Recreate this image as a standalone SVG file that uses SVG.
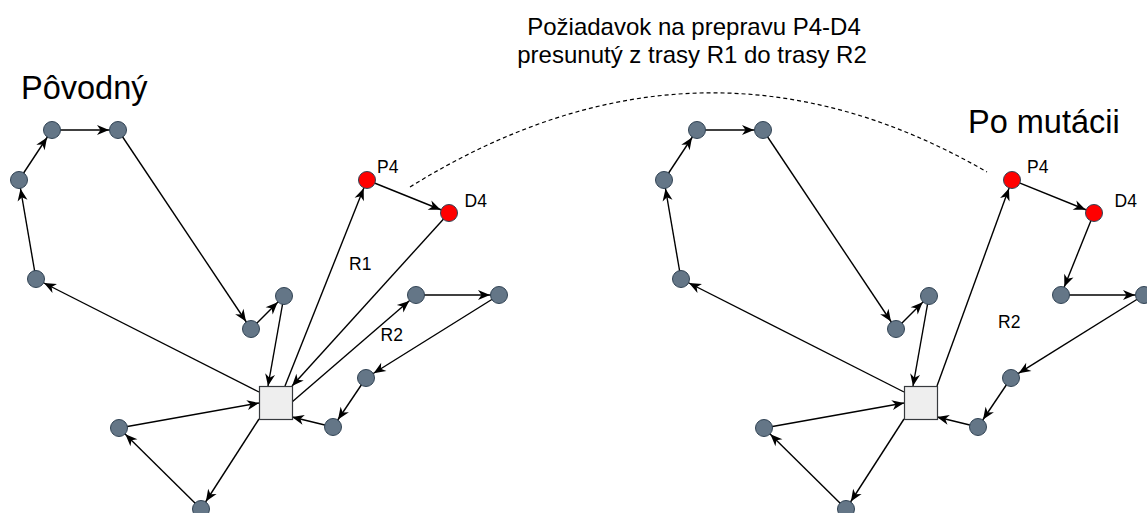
<svg xmlns="http://www.w3.org/2000/svg" width="1147" height="513" viewBox="0 0 1147 513">
  <style>
    .edge { fill: none; stroke: #000; stroke-width: 1.4; }
    .to-node { marker-end: url(#arrowNode); }
    .to-box { marker-end: url(#arrowBox); }
    .stop { fill: #647687; stroke: #314354; stroke-width: 1; }
    .stop.moved { fill: #ff0000; }
    .depot { fill: #eeeeee; stroke: #36393d; stroke-width: 1.2; }
    .label { font-family: "Liberation Sans", Arial, Helvetica, sans-serif; font-size: 17.5px; fill: #000; }
    .heading { font-family: "Liberation Sans", Arial, Helvetica, sans-serif; font-size: 32.5px; fill: #000; }
    .note { font-family: "Liberation Sans", Arial, Helvetica, sans-serif; font-size: 24px; fill: #000; text-anchor: middle; }
    .link { fill: none; stroke: #000; stroke-width: 1.2; stroke-dasharray: 4 3; }
  </style>
  <defs>
    <!-- arrowhead whose tip sits on the rim of a stop circle (r = 9) -->
    <marker id="arrowNode" markerUnits="userSpaceOnUse" orient="auto" refX="0" refY="0" markerWidth="20" markerHeight="20" overflow="visible">
      <path d="M-9,0 L-21,-5 L-17.5,0 L-21,5 Z" fill="#000"/>
    </marker>
    <!-- arrowhead whose tip sits at the end of the line (depot side) -->
    <marker id="arrowBox" markerUnits="userSpaceOnUse" orient="auto" refX="0" refY="0" markerWidth="20" markerHeight="20" overflow="visible">
      <path d="M0,0 L-12,-5 L-8.5,0 L-12,5 Z" fill="#000"/>
    </marker>
  </defs>

  <rect width="1147" height="513" fill="#ffffff"/>

  <!-- headings -->
  <text class="heading" x="21" y="99">Pôvodný</text>
  <text class="heading" x="968" y="133">Po mutácii</text>
  <text class="note" x="694" y="35">Požiadavok na prepravu P4-D4</text>
  <text class="note" x="692" y="63">presunutý z trasy R1 do trasy R2</text>

  <!-- connectors -->
  <g id="connectors">
    <!-- original: route R1 -->
    <line class="edge to-node" x1="259" y1="392" x2="36" y2="279"/>
    <line class="edge to-node" x1="36" y1="279" x2="19" y2="180"/>
    <line class="edge to-node" x1="19" y1="180" x2="52" y2="130"/>
    <line class="edge to-node" x1="52" y1="130" x2="118" y2="130"/>
    <line class="edge to-node" x1="118" y1="130" x2="251" y2="329"/>
    <line class="edge to-node" x1="251" y1="329" x2="284" y2="296"/>
    <line class="edge to-box" x1="284" y1="296" x2="268" y2="386"/>
    <line class="edge to-node" x1="285" y1="386" x2="367" y2="180"/>
    <line class="edge to-node" x1="367" y1="180" x2="449" y2="213"/>
    <line class="edge to-box" x1="449" y1="213" x2="292" y2="386"/>
    <!-- original: route R2 -->
    <line class="edge to-node" x1="292" y1="402" x2="416" y2="295"/>
    <line class="edge to-node" x1="416" y1="295" x2="499" y2="295"/>
    <line class="edge to-node" x1="499" y1="295" x2="366" y2="378"/>
    <line class="edge to-node" x1="366" y1="378" x2="333" y2="427"/>
    <line class="edge to-box" x1="333" y1="427" x2="292" y2="417"/>
    <!-- original: third route -->
    <line class="edge to-node" x1="259" y1="419" x2="201" y2="509"/>
    <line class="edge to-node" x1="201" y1="509" x2="119" y2="428"/>
    <line class="edge to-box" x1="119" y1="428" x2="259" y2="403"/>

    <!-- mutated: route R1 -->
    <line class="edge to-node" x1="904" y1="392" x2="681" y2="279"/>
    <line class="edge to-node" x1="681" y1="279" x2="664" y2="180"/>
    <line class="edge to-node" x1="664" y1="180" x2="697" y2="130"/>
    <line class="edge to-node" x1="697" y1="130" x2="763" y2="130"/>
    <line class="edge to-node" x1="763" y1="130" x2="896" y2="329"/>
    <line class="edge to-node" x1="896" y1="329" x2="929" y2="296"/>
    <line class="edge to-box" x1="929" y1="296" x2="913" y2="386"/>
    <!-- mutated: route R2 with P4-D4 -->
    <line class="edge to-node" x1="937" y1="386" x2="1012" y2="180"/>
    <line class="edge to-node" x1="1012" y1="180" x2="1094" y2="213"/>
    <line class="edge to-node" x1="1094" y1="213" x2="1061" y2="295"/>
    <line class="edge to-node" x1="1061" y1="295" x2="1144" y2="295"/>
    <line class="edge to-node" x1="1144" y1="295" x2="1011" y2="378"/>
    <line class="edge to-node" x1="1011" y1="378" x2="978" y2="427"/>
    <line class="edge to-box" x1="978" y1="427" x2="937" y2="417"/>
    <!-- mutated: third route -->
    <line class="edge to-node" x1="904" y1="419" x2="846" y2="509"/>
    <line class="edge to-node" x1="846" y1="509" x2="764" y2="428"/>
    <line class="edge to-box" x1="764" y1="428" x2="904" y2="403"/>

    <!-- move of the request between the two solutions -->
    <path class="link" d="M410,187 Q701,6.5 987,172"/>
  </g>

  <!-- original solution -->
  <g id="orig-depot"><rect class="depot" x="259.5" y="386.5" width="33" height="33"/></g>
  <g id="orig-a"><circle class="stop" cx="52" cy="130" r="8.5"/></g>
  <g id="orig-b"><circle class="stop" cx="118" cy="130" r="8.5"/></g>
  <g id="orig-c"><circle class="stop" cx="19" cy="180" r="8.5"/></g>
  <g id="orig-d"><circle class="stop" cx="36" cy="279" r="8.5"/></g>
  <g id="orig-e"><circle class="stop" cx="284" cy="296" r="8.5"/></g>
  <g id="orig-f"><circle class="stop" cx="251" cy="329" r="8.5"/></g>
  <g id="orig-p4"><circle class="stop moved" cx="367" cy="180" r="8.5"/><text class="label" x="377" y="173">P4</text></g>
  <g id="orig-d4"><circle class="stop moved" cx="449" cy="213" r="8.5"/><text class="label" x="464.5" y="207">D4</text></g>
  <g id="orig-g"><circle class="stop" cx="416" cy="295" r="8.5"/></g>
  <g id="orig-h"><circle class="stop" cx="499" cy="295" r="8.5"/></g>
  <g id="orig-i"><circle class="stop" cx="366" cy="378" r="8.5"/></g>
  <g id="orig-j"><circle class="stop" cx="333" cy="427" r="8.5"/></g>
  <g id="orig-k"><circle class="stop" cx="119" cy="428" r="8.5"/></g>
  <g id="orig-l"><circle class="stop" cx="201" cy="509" r="8.5"/></g>
  <g id="orig-r1"><text class="label" x="349" y="270">R1</text></g>
  <g id="orig-r2"><text class="label" x="380.5" y="341">R2</text></g>

  <!-- mutated solution -->
  <g id="mut-depot"><rect class="depot" x="904.5" y="386.5" width="33" height="33"/></g>
  <g id="mut-a"><circle class="stop" cx="697" cy="130" r="8.5"/></g>
  <g id="mut-b"><circle class="stop" cx="763" cy="130" r="8.5"/></g>
  <g id="mut-c"><circle class="stop" cx="664" cy="180" r="8.5"/></g>
  <g id="mut-d"><circle class="stop" cx="681" cy="279" r="8.5"/></g>
  <g id="mut-e"><circle class="stop" cx="929" cy="296" r="8.5"/></g>
  <g id="mut-f"><circle class="stop" cx="896" cy="329" r="8.5"/></g>
  <g id="mut-p4"><circle class="stop moved" cx="1012" cy="180" r="8.5"/><text class="label" x="1027" y="173">P4</text></g>
  <g id="mut-d4"><circle class="stop moved" cx="1094" cy="213" r="8.5"/><text class="label" x="1114.5" y="207">D4</text></g>
  <g id="mut-g"><circle class="stop" cx="1061" cy="295" r="8.5"/></g>
  <g id="mut-h"><circle class="stop" cx="1144" cy="295" r="8.5"/></g>
  <g id="mut-i"><circle class="stop" cx="1011" cy="378" r="8.5"/></g>
  <g id="mut-j"><circle class="stop" cx="978" cy="427" r="8.5"/></g>
  <g id="mut-k"><circle class="stop" cx="764" cy="428" r="8.5"/></g>
  <g id="mut-l"><circle class="stop" cx="846" cy="509" r="8.5"/></g>
  <g id="mut-r2"><text class="label" x="998" y="328">R2</text></g>
</svg>
